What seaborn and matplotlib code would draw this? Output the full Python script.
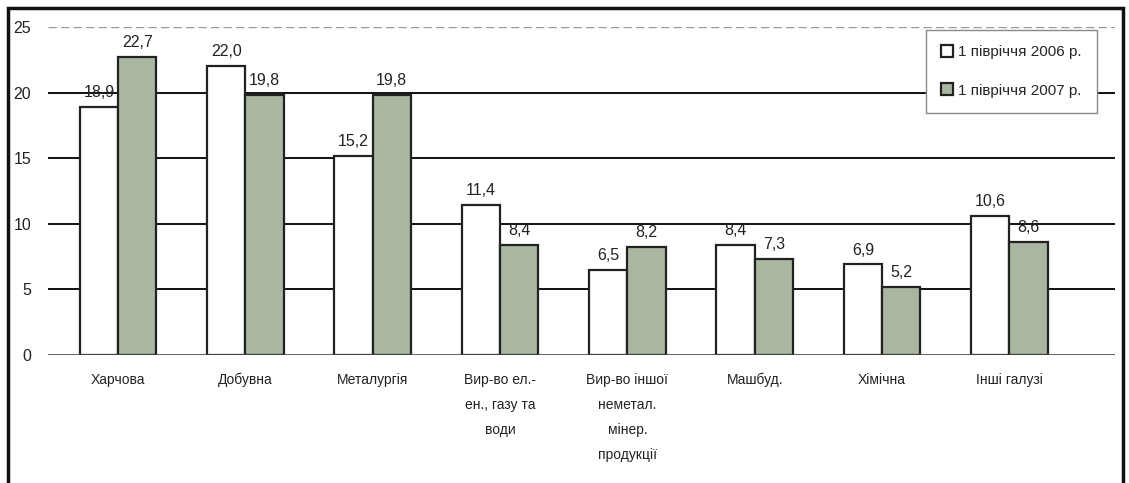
import matplotlib
matplotlib.use("Agg")
import matplotlib.pyplot as plt
import seaborn as sns
import pandas as pd
from matplotlib.patches import Rectangle

categories = ["Харчова", "Добувна", "Металургія", "Вир-во ел.-\nен., газу та\nводи",
              "Вир-во іншої\nнеметал.\nмінер.\nпродукції", "Машбуд.", "Хімічна", "Інші галузі"]
series_names = ["1 півріччя 2006 р.", "1 півріччя 2007 р."]
values_2006 = [18.9, 22.0, 15.2, 11.4, 6.5, 8.4, 6.9, 10.6]
values_2007 = [22.7, 19.8, 19.8, 8.4, 8.2, 7.3, 5.2, 8.6]
y_ticks = [0, 5, 10, 15, 20, 25]

df = pd.DataFrame({
    "cat": categories * 2,
    "series": [series_names[0]] * len(categories) + [series_names[1]] * len(categories),
    "value": values_2006 + values_2007,
})

sns.set_theme(style="white")
plt.rcParams["font.family"] = ["Liberation Sans", "DejaVu Sans"]

fig = plt.figure(figsize=(11.29, 4.83), dpi=100)
ax = fig.add_axes([48 / 1129, 128 / 483, (1115 - 48) / 1129, (355 - 27) / 483])

palette = {series_names[0]: "#ffffff", series_names[1]: "#a9b7a2"}
sns.barplot(data=df, x="cat", y="value", hue="series", palette=palette,
            width=0.6, edgecolor="#222222", linewidth=1.6, ax=ax, zorder=3, saturation=1)

for yv in y_ticks[1:-1]:
    ax.axhline(yv, color="#111111", lw=1.4, zorder=1)
ax.axhline(25, color="#999999", lw=1.0, ls=(0, (6, 3)), zorder=1)
ax.axhline(0, color="#444444", lw=1.2, zorder=4)

for cont in ax.containers:
    labels = [f"{v:.1f}".replace(".", ",") for v in cont.datavalues]
    ax.bar_label(cont, labels=labels, padding=5, fontsize=11.5, color="#222222")

ax.set_ylim(0, 25)
ax.set_xlim(-0.55, 7.83)
ax.set_yticks(y_ticks)
ax.set_yticklabels([str(t) for t in y_ticks], fontsize=11.5, color="#222222")
ax.tick_params(axis="y", pad=12, length=0)
ax.tick_params(axis="x", pad=13, length=0)
ax.set_xticks(range(len(categories)))
ax.set_xticklabels(categories, fontsize=10, color="#222222", linespacing=2.0, va="top")
ax.set_xlabel("")
ax.set_ylabel("")
for s in ax.spines.values():
    s.set_visible(False)

leg = ax.legend(loc="upper right", bbox_to_anchor=(0.983, 0.992), frameon=True, fontsize=11,
                handlelength=0.8, handleheight=0.8, handletextpad=0.3, labelspacing=1.6,
                borderpad=1.0, borderaxespad=0, fancybox=False, edgecolor="#888888", framealpha=1)
leg.get_frame().set_linewidth(1.0)
leg.set_zorder(10)

fig.patches.append(Rectangle((8 / 1129, -0.05), (1123 - 8) / 1129, (483 - 8) / 483 + 0.05,
                             transform=fig.transFigure, fill=False, edgecolor="#111111", lw=2.5))

fig.savefig("out.png", dpi=100, facecolor="white")
